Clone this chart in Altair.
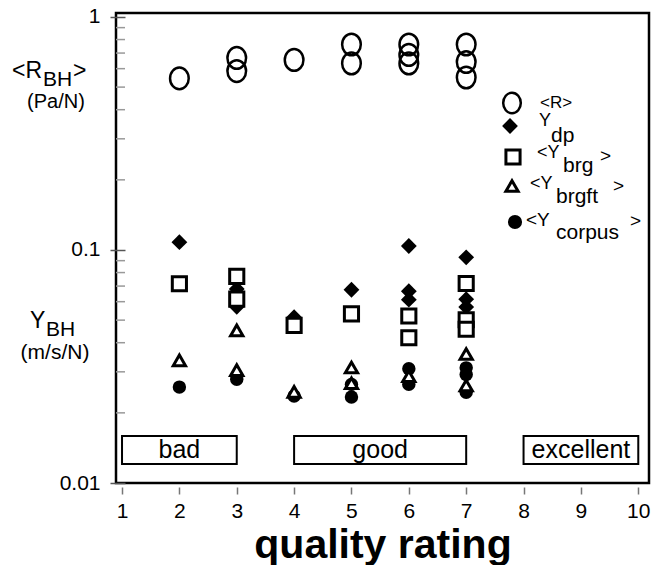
import altair as alt
import pandas as pd

FONT = "Liberation Sans"

# Measured values per quality rating
r_quality = [2, 3, 3, 4, 5, 5, 6, 6, 6, 7, 7, 7]
r_values = [0.545, 0.667, 0.586, 0.654, 0.762, 0.632, 0.762, 0.687, 0.632, 0.762, 0.641, 0.55]

dp_quality = [2, 3, 3, 4, 5, 6, 6, 6, 7, 7, 7]
dp_values = [0.108, 0.068, 0.057, 0.0515, 0.0675, 0.104, 0.0665, 0.0612, 0.093, 0.0615, 0.0569]

brg_quality = [2, 3, 3, 4, 5, 6, 6, 7, 7, 7]
brg_values = [0.0716, 0.077, 0.0615, 0.0475, 0.0532, 0.0521, 0.042, 0.0718, 0.0502, 0.0457]

brgft_quality = [2, 3, 3, 4, 5, 5, 6, 7, 7]
brgft_values = [0.0336, 0.0452, 0.0305, 0.0246, 0.0313, 0.0268, 0.0287, 0.0358, 0.0262]

corpus_quality = [2, 3, 4, 5, 5, 6, 6, 7, 7, 7]
corpus_values = [0.0258, 0.0279, 0.0236, 0.0265, 0.0234, 0.0309, 0.0265, 0.0312, 0.0292, 0.0245]

# Axis ticks
rating_ticks = [1, 2, 3, 4, 5, 6, 7, 8, 9, 10]
decade_ticks = [0.01, 0.1, 1]
minor_ticks = [0.02, 0.03, 0.04, 0.05, 0.06, 0.07, 0.08, 0.09,
               0.2, 0.3, 0.4, 0.5, 0.6, 0.7, 0.8, 0.9]

# Rating bands
band_labels = ["bad", "good", "excellent"]
band_start = [1, 4, 8]
band_end = [3, 7, 10]

W, H = 533, 470
xscale = alt.Scale(domain=[0.895, 10.187], nice=False, zero=False)
yscale = alt.Scale(type="log", domain=[0.01, 1.04], nice=False)

one_row = pd.DataFrame({"k": [0]})


def series(q, v):
    return pd.DataFrame({"q": q, "v": v})


def enc(chart):
    return chart.encode(
        x=alt.X("q:Q", scale=xscale),
        y=alt.Y("v:Q", scale=yscale),
    )


ELLIPSE = "M0,-1A0.86,1,0,1,1,0,1A0.86,1,0,1,1,0,-1Z"

# Axes layer (transparent points carry both axes)
axes = alt.Chart(series(r_quality, r_values)).mark_point(opacity=0).encode(
    x=alt.X("q:Q", scale=xscale, axis=alt.Axis(
        values=rating_ticks, format="d", title="quality rating")),
    y=alt.Y("v:Q", scale=yscale, axis=alt.Axis(
        values=decade_ticks, format="~g", title=None)),
)

minor = alt.Chart(pd.DataFrame({"v": minor_ticks})).mark_rule(
    color="#999999", strokeWidth=1.5
).encode(y=alt.Y("v:Q", scale=yscale), x=alt.value(0), x2=alt.value(9))

bands = pd.DataFrame({"label": band_labels, "q": band_start, "e": band_end})
band_mid = pd.DataFrame({"label": band_labels,
                         "q": [(a + b) / 2 for a, b in zip(band_start, band_end)]})
band_rects = alt.Chart(bands).mark_rect(
    fill="white", stroke="black", strokeWidth=2
).encode(
    x=alt.X("q:Q", scale=xscale), x2="e:Q",
    y=alt.value(423), y2=alt.value(451),
)
band_text = alt.Chart(band_mid).mark_text(
    font=FONT, fontSize=25, color="black", baseline="middle", align="center"
).encode(x=alt.X("q:Q", scale=xscale), y=alt.value(437), text="label:N")

r_pts = enc(alt.Chart(series(r_quality, r_values)).mark_point(
    shape=ELLIPSE, size=470, filled=False, color="black", strokeWidth=2.5, opacity=1))
corpus_pts = enc(alt.Chart(series(corpus_quality, corpus_values)).mark_point(
    shape="circle", size=180, filled=True, color="black", opacity=1))
dp_pts = enc(alt.Chart(series(dp_quality, dp_values)).mark_point(
    shape="diamond", size=250, filled=True, color="black", opacity=1))
brg_pts = enc(alt.Chart(series(brg_quality, brg_values)).mark_point(
    shape="square", size=200, filled=False, fill="white", fillOpacity=1,
    stroke="black", strokeWidth=3, opacity=1))
brgft_pts = enc(alt.Chart(series(brgft_quality, brgft_values)).mark_point(
    shape="triangle-up", size=150, filled=False, fill="white", fillOpacity=1,
    stroke="black", strokeWidth=3, opacity=1))


def label(text, x, y, size, align="left"):
    return alt.Chart(one_row).mark_text(
        text=text, align=align, baseline="middle", fontSize=size,
        font=FONT, color="black"
    ).encode(x=alt.value(x - 116), y=alt.value(y - 13))


def symbol(shape, x, y, size, filled, sw=3):
    kw = dict(shape=shape, size=size, opacity=1)
    if filled:
        kw.update(filled=True, color="black")
    else:
        kw.update(filled=False, fill="white", fillOpacity=0, stroke="black", strokeWidth=sw)
    return alt.Chart(one_row).mark_point(**kw).encode(
        x=alt.value(x - 116), y=alt.value(y - 13))


texts = [
    # left-side quantity labels
    label("<R", 12, 71, 23), label("BH", 43, 80, 21), label(">", 73, 71, 23),
    label("(Pa/N)", 56, 102, 20, "center"),
    label("Y", 30, 321, 23), label("BH", 46, 330, 21),
    label("(m/s/N)", 55, 353, 21, "center"),
    # legend entries
    symbol(ELLIPSE, 512, 103, 420, False, 2.5),
    label("<R>", 540, 103, 17),
    symbol("diamond", 510, 126, 250, True),
    label("Y", 539, 121, 18), label("dp", 551, 136, 21),
    symbol("square", 513, 157, 200, False),
    label("<Y", 537, 153, 18), label("brg", 563, 166, 21), label(">", 600, 156, 19),
    symbol("triangle-up", 512, 186, 150, False),
    label("<Y", 530, 184, 18), label("brgft", 556, 197, 21), label(">", 613, 186, 19),
    symbol("circle", 515, 222, 200, True),
    label("<Y", 526, 220, 19), label("corpus", 556, 233, 21), label(">", 630, 221, 19),
]

chart = alt.layer(
    axes, minor, band_rects, band_text,
    r_pts, corpus_pts, dp_pts, brg_pts, brgft_pts,
    *texts,
).properties(
    width=W, height=H,
    background="white",
    autosize=alt.AutoSizeParams(type="none"),
    padding={"left": 116, "top": 13, "right": 8, "bottom": 82},
).configure_view(
    stroke="black", strokeWidth=2.5
).configure_axisX(
    domain=False, grid=False, tickSize=7, offset=4, tickColor="#777777",
    tickWidth=1.5, labelFontSize=21, labelColor="black", labelFont=FONT,
    labelPadding=6, titleFont=FONT, titleFontSize=41, titleFontWeight="bold",
    titleColor="black", titlePadding=4,
).configure_axisY(
    domain=False, grid=False, tickSize=15, offset=-9, tickColor="#555555",
    tickWidth=1.5, labelFontSize=21, labelColor="black", labelFont=FONT,
    labelPadding=10,
)

chart.save("out.html", embed_options={"renderer": "svg", "actions": False})
